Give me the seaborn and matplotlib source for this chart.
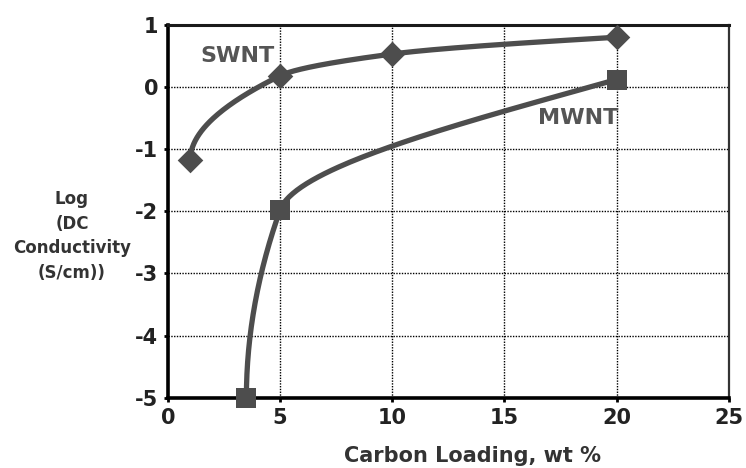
import numpy as np
import pandas as pd
import matplotlib
matplotlib.use("Agg")
import matplotlib.pyplot as plt
import seaborn as sns

# values
swnt_loading = [1, 5, 10, 20]
swnt_logcond = [-1.17, 0.18, 0.53, 0.80]
mwnt_loading = [3.5, 5, 20]
mwnt_logcond = [-5.0, -1.98, 0.12]

x_ticks = [0, 5, 10, 15, 20, 25]
y_ticks = [-5, -4, -3, -2, -1, 0, 1]

GRAY = "#4d4d4d"

sns.set_theme(style="white")
plt.rcParams["font.family"] = ["DejaVu Sans"]
plt.rcParams["font.weight"] = "bold"

fig = plt.figure(figsize=(7.46, 4.68), dpi=100)
ax = fig.add_axes([0.225, 0.150, 0.752, 0.797])
ax.set_xlim(0, 25)
ax.set_ylim(-5, 1)


def pchip_slopes(t, v):
    # monotone cubic (Fritsch-Carlson) slopes
    h = np.diff(t)
    d = np.diff(v) / h
    m = np.zeros(len(t))
    for k in range(1, len(t) - 1):
        if d[k - 1] * d[k] > 0:
            w1 = 2 * h[k] + h[k - 1]
            w2 = h[k] + 2 * h[k - 1]
            m[k] = (w1 + w2) / (w1 / d[k - 1] + w2 / d[k])
    def end(h0, h1, d0, d1):
        s = ((2 * h0 + h1) * d0 - h0 * d1) / (h0 + h1)
        if np.sign(s) != np.sign(d0):
            return 0.0
        if np.sign(d0) != np.sign(d1) and abs(s) > 3 * abs(d0):
            return 3 * d0
        return s
    if len(t) > 2:
        m[0] = end(h[0], h[1], d[0], d[1])
        m[-1] = end(h[-1], h[-2], d[-1], d[-2])
    else:
        m[:] = d[0]
    return m


def smooth(xs, ys, n=80):
    # draw the curve as x = f(y) with a monotone cubic, like the hand-smoothed original
    yv = np.asarray(ys, float)
    xv = np.asarray(xs, float)
    m = pchip_slopes(yv, xv)
    px, py = [], []
    for k in range(len(yv) - 1):
        h = yv[k + 1] - yv[k]
        t = np.linspace(0, 1, n)
        h00 = 2 * t**3 - 3 * t**2 + 1
        h10 = t**3 - 2 * t**2 + t
        h01 = -2 * t**3 + 3 * t**2
        h11 = t**3 - t**2
        px.append(h00 * xv[k] + h10 * h * m[k] + h01 * xv[k + 1] + h11 * h * m[k + 1])
        py.append(yv[k] + t * h)
    return pd.DataFrame({"x": np.concatenate(px), "y": np.concatenate(py)})


for xs, ys, mk, ms in [(swnt_loading, swnt_logcond, "D", 170), (mwnt_loading, mwnt_logcond, "s", 200)]:
    curve = smooth(xs, ys)
    sns.lineplot(data=curve, x="x", y="y", sort=False, estimator=None, ax=ax,
                 color=GRAY, linewidth=3.8, zorder=3)
    sns.scatterplot(x=xs, y=ys, marker=mk, s=ms, color=GRAY, edgecolor=GRAY,
                    linewidth=0, ax=ax, zorder=4, clip_on=False)

# dotted grid
for gx in [5, 10, 15, 20]:
    ax.axvline(gx, color="black", linestyle=(0, (1, 1)), linewidth=1.0, zorder=1)
for gy in [-4, -3, -2, -1, 0]:
    ax.axhline(gy, color="black", linestyle=(0, (1, 1)), linewidth=1.0, zorder=1)

ax.set_xticks(x_ticks)
ax.set_yticks(y_ticks)
ax.set_xticklabels([str(v) for v in x_ticks], fontsize=15, fontweight="bold", color="#222222")
ax.set_yticklabels([str(v) for v in y_ticks], fontsize=15, fontweight="bold", color="#222222")
ax.tick_params(axis="both", length=3, width=2, color="black", pad=4, direction="out")
ax.tick_params(axis="x", bottom=True)
ax.tick_params(axis="y", left=True)

for side in ["left", "bottom"]:
    ax.spines[side].set_linewidth(2.6)
    ax.spines[side].set_color("black")
ax.spines["top"].set_linewidth(2.2)
ax.spines["top"].set_color("#1a1a1a")
ax.spines["right"].set_linewidth(1.6)
ax.spines["right"].set_color("#333333")

ax.set_xlabel("")
ax.set_ylabel("")
fig.text(472 / 746, 1 - 456 / 468, "Carbon Loading, wt %", ha="center", va="center",
         fontsize=15, fontweight="bold", color="#333333")
fig.text(72 / 746, 1 - 236 / 468, "Log\n(DC\nConductivity\n(S/cm))", ha="center", va="center",
         fontsize=12, fontweight="bold", color="#333333", linespacing=1.48)

ax.text(3.1, 0.50, "SWNT", ha="center", va="center", fontsize=16, fontweight="bold", color="#555555")
ax.text(18.3, -0.5, "MWNT", ha="center", va="center", fontsize=16, fontweight="bold", color="#555555")

fig.savefig("out.png", dpi=100)
